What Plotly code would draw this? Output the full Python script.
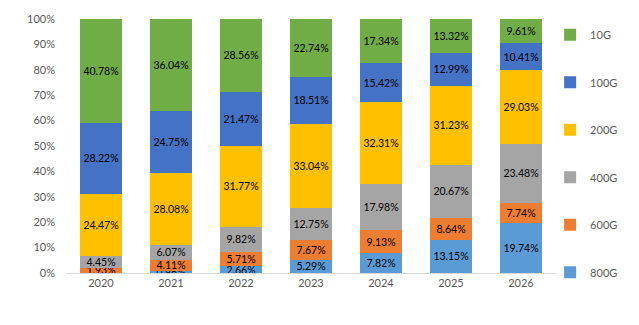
import plotly.graph_objects as go

years = ["2020", "2021", "2022", "2023", "2024", "2025", "2026"]

# share of each port speed per year (%), bottom of the stack first
share_800g = [0.15, 0.96, 2.66, 5.29, 7.82, 13.15, 19.74]
share_600g = [1.93, 4.11, 5.71, 7.67, 9.13, 8.64, 7.74]
share_400g = [4.45, 6.07, 9.82, 12.75, 17.98, 20.67, 23.48]
share_200g = [24.47, 28.08, 31.77, 33.04, 32.31, 31.23, 29.03]
share_100g = [28.22, 24.75, 21.47, 18.51, 15.42, 12.99, 10.41]
share_10g = [40.78, 36.04, 28.56, 22.74, 17.34, 13.32, 9.61]

series = [
    ("800G", share_800g, "#5B9BD5"),
    ("600G", share_600g, "#ED7D31"),
    ("400G", share_400g, "#A5A5A5"),
    ("200G", share_200g, "#FFC000"),
    ("100G", share_100g, "#4472C4"),
    ("10G", share_10g, "#70AD47"),
]

fig = go.Figure()
for rank, (name, vals, color) in enumerate(series):
    fig.add_trace(go.Bar(
        x=years,
        y=[v / 100 for v in vals],
        name=name,
        legendgroup=name,
        legendrank=100 - rank,
        marker=dict(color=color, line=dict(width=0)),
        text=[f"{v:.2f}%" for v in vals],
        textposition="inside",
        insidetextanchor="middle",
        textangle=0,
        textfont=dict(color="#000000", size=10.5, family="Lato"),
        constraintext="none",
    ))

fig.update_layout(
    barmode="stack",
    bargap=0.4,
    width=639,
    height=325,
    margin=dict(l=66, r=83, t=17, b=52),
    paper_bgcolor="white",
    plot_bgcolor="white",
    font=dict(family="Lato", size=11, color="#595959"),
    uniformtext=dict(minsize=10.5, mode="show"),
    showlegend=True,
    legend=dict(
        x=0.988, y=0.995, xanchor="left", yanchor="top",
        traceorder="grouped",
        tracegroupgap=28.5,
        maxheight=322,
        font=dict(size=11, color="#595959", family="Lato"),
        itemwidth=30,
        bgcolor="rgba(0,0,0,0)",
    ),
    xaxis=dict(
        showgrid=False,
        showline=True,
        linecolor="#D9D9D9",
        linewidth=1,
        ticks="",
        tickfont=dict(size=11, color="#595959"),
    ),
    yaxis=dict(
        range=[0, 1],
        tickvals=[i / 10 for i in range(11)],
        tickformat=".0%",
        showgrid=False,
        showline=False,
        zeroline=False,
        ticks="",
        ticklabelstandoff=10,
        tickfont=dict(size=11, color="#595959"),
    ),
)

fig.write_html("out.html")
